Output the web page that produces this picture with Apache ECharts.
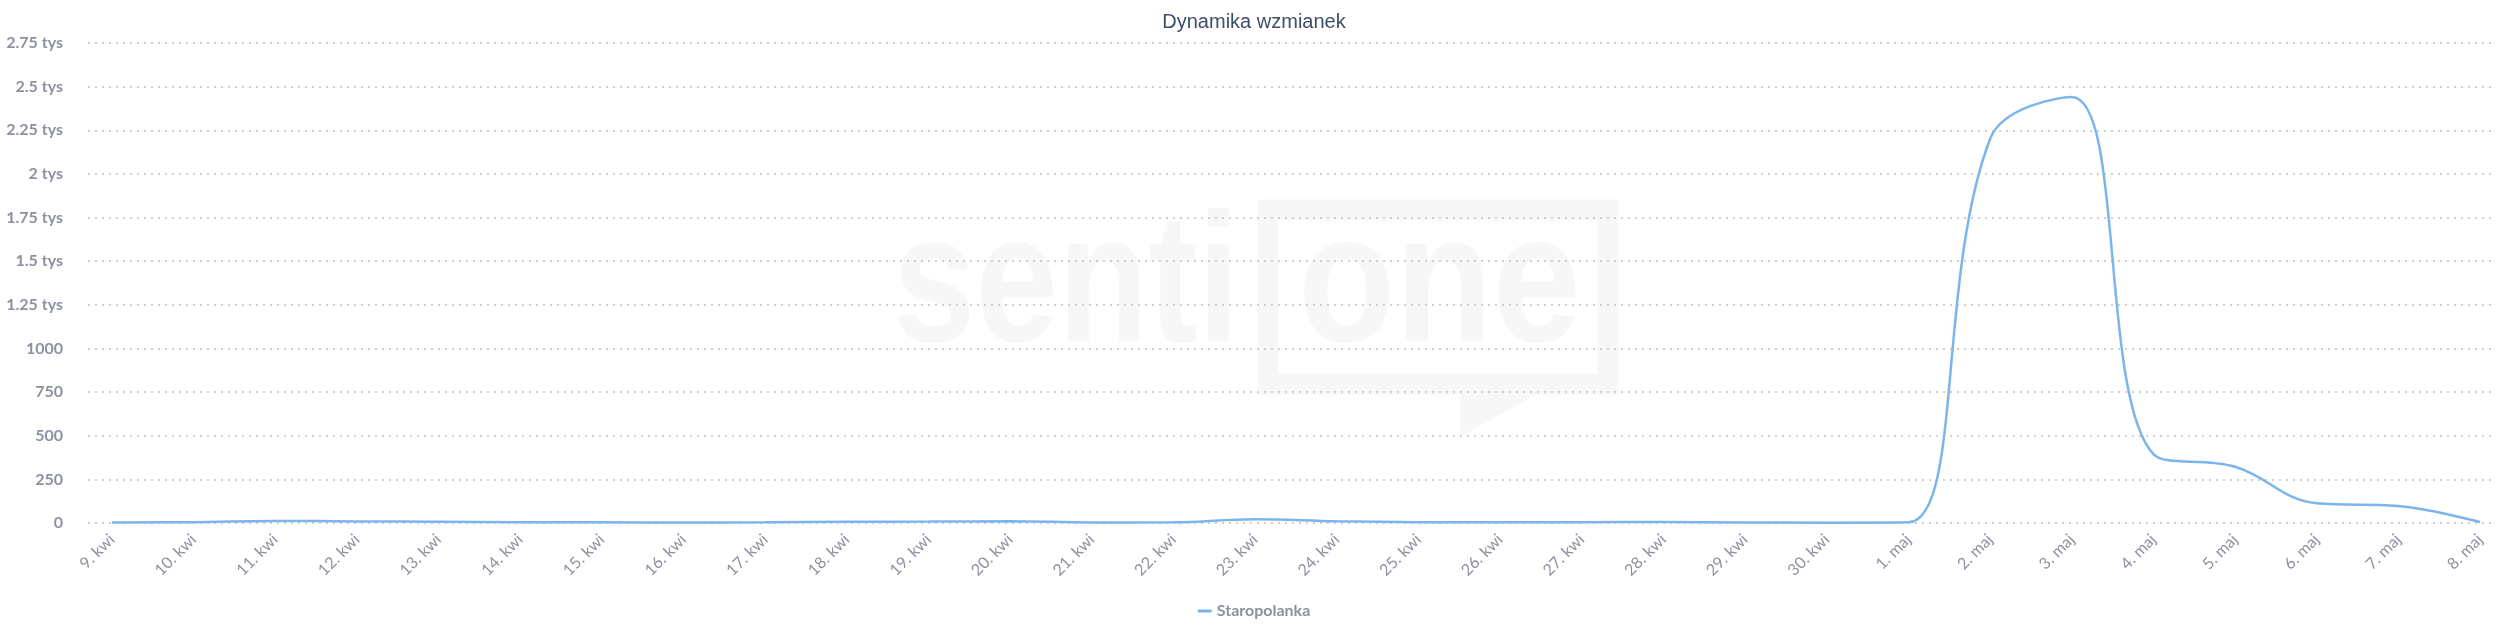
<!DOCTYPE html>
<html>
<head>
<meta charset="utf-8">
<script src="https://cdn.jsdelivr.net/npm/echarts@6/dist/echarts.min.js"></script>
<style>html,body{margin:0;padding:0;background:#fff}#c{width:2508px;height:640px}</style>
</head>
<body>
<div id="c"></div>
<script>
const categories = ['9. kwi','10. kwi','11. kwi','12. kwi','13. kwi','14. kwi','15. kwi','16. kwi','17. kwi','18. kwi','19. kwi','20. kwi','21. kwi','22. kwi','23. kwi','24. kwi','25. kwi','26. kwi','27. kwi','28. kwi','29. kwi','30. kwi','1. maj','2. maj','3. maj','4. maj','5. maj','6. maj','7. maj','8. maj'];
const seriesName = 'Staropolanka';
const values = [3,5,12,9,7,5,4,3,4,7,8,10,3,4,22,10,5,4,5,6,3,2,4,2200,2440,395,322,113,97,5];
const yMin = 0, yMax = 2750, yStep = 250;

const chart = echarts.init(document.getElementById('c'));
const labelColor = '#8d90a0';
const wm = '#f7f7f7';
const wmFont = 'bold 183px "Liberation Sans", Arial, sans-serif';
function yFmt(v){ return v > 1000 ? (v/1000) + ' tys' : String(v); }

chart.setOption({
  backgroundColor: '#fff',
  animation: false,
  title: { text: 'Dynamika wzmianek', left: 'center', top: 7,
    textStyle: { fontFamily: 'Liberation Sans, Arial, sans-serif', fontSize: 20, fontWeight: 'normal', color: '#3d4f66' } },
  legend: { bottom: 16, left: 'center', icon: 'rect', itemWidth: 14, itemHeight: 3, itemGap: 10,
    textStyle: { fontFamily: 'Lato', fontWeight: 'bold', fontSize: 16, color: labelColor },
    data: [seriesName] },
  graphic: [
    { type: 'text', z: -10, x: 893, y: 199, scaleX: 0.81, style: { text: 'senti', fill: wm, font: wmFont, verticalAlign: 'top' } },
    { type: 'text', z: -10, x: 1298, y: 199, scaleX: 0.87, style: { text: 'one', fill: wm, font: wmFont, verticalAlign: 'top' } },
    { type: 'rect', z: -10, shape: { x: 1268, y: 210, width: 340, height: 174 }, style: { fill: 'none', stroke: wm, lineWidth: 21 } },
    { type: 'polygon', z: -10, shape: { points: [[1460,394],[1536,394],[1460,437]] }, style: { fill: wm } }
  ],
  grid: [
    { left: 88, right: 12, top: 43, bottom: 117 },
    { left: 112, right: 28, top: 43, bottom: 117 }
  ],
  xAxis: [
    { gridIndex: 0, type: 'value', show: false, min: 0, max: 1 },
    { gridIndex: 1, type: 'category', data: categories, boundaryGap: false,
      axisLine: { show: false }, axisTick: { show: false },
      axisLabel: { rotate: 45, margin: 14, interval: 0, fontFamily: 'Lato', fontSize: 16, color: labelColor } }
  ],
  yAxis: [
    { gridIndex: 0, type: 'value', min: yMin, max: yMax, interval: yStep,
      axisLine: { show: false }, axisTick: { show: false },
      axisLabel: { formatter: yFmt, margin: 25, fontFamily: 'Lato', fontWeight: 'bold', fontSize: 16, color: labelColor },
      splitLine: { lineStyle: { type: [2, 5], width: 2, color: '#cfcfcf' } } },
    { gridIndex: 1, type: 'value', min: yMin, max: yMax, interval: yStep, show: false, splitLine: { show: false } }
  ],
  series: [{
    name: seriesName, type: 'line', xAxisIndex: 1, yAxisIndex: 1, data: values,
    smooth: 0.4, showSymbol: false, symbol: 'none',
    itemStyle: { color: '#7cb5ec' },
    lineStyle: { color: '#7cb5ec', width: 2.5 }
  }]
});
</script>
</body>
</html>
